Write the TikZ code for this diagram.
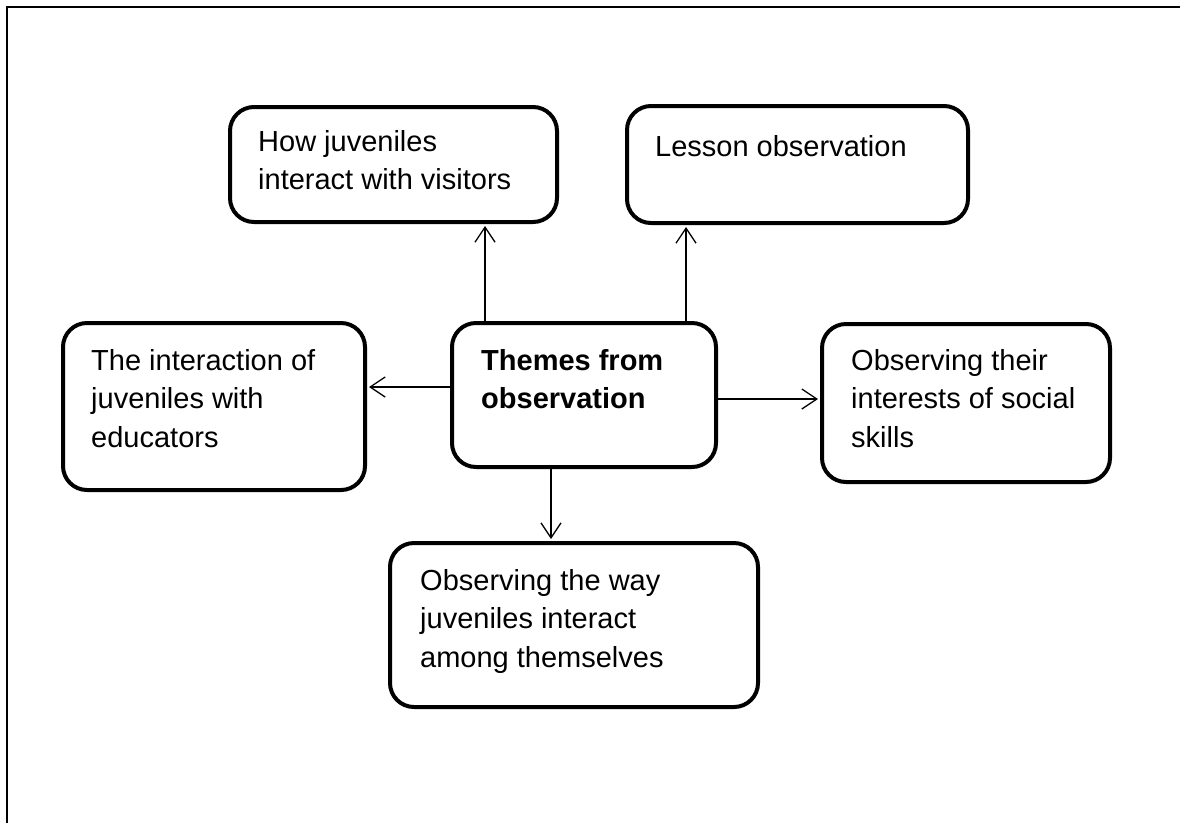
\documentclass[tikz,border=0pt]{standalone}
\usepackage{fontspec}
\setmainfont{Liberation Sans}
\usetikzlibrary{arrows.meta,calc}
\tikzset{
  themebox/.style={draw, rectangle, rounded corners=24pt, line width=4pt, inner sep=0pt},
  boxtext/.style={anchor=base west, inner sep=0pt, font=\fontsize{29}{38.5}\selectfont},
  arr/.style={line width=1.3pt, -{Straight Barb[length=15pt,width=20pt]}, shorten >=2pt}
}
\newcommand{\boxlines}[1]{\begin{tabular}[t]{@{}l@{}}#1\end{tabular}}
\begin{document}
\begin{tikzpicture}[x=1pt,y=-1pt]
\useasboundingbox (0,0) rectangle (1180,823);
\draw[line width=2pt] (1180,6.7) -- (6.7,6.7) -- (6.7,823);

\node[themebox, minimum width=327pt, minimum height=115pt] (b1) at (393.5,164.5) {};
\node[themebox, minimum width=341pt, minimum height=117pt] (b2) at (797.5,164.5) {};
\node[themebox, minimum width=264pt, minimum height=144pt] (c)  at (584,395) {};
\node[themebox, minimum width=302pt, minimum height=167pt] (l)  at (214,406.5) {};
\node[themebox, minimum width=288pt, minimum height=158pt] (r)  at (966,403) {};
\node[themebox, minimum width=368pt, minimum height=164pt] (bt) at (574,625) {};

\node[boxtext] (t1) at ($(b1.north west)+(30,46)$) {\boxlines{How juveniles\\interact with visitors}};
\node[boxtext] (t2) at ($(b2.north west)+(30,52)$) {\boxlines{Lesson observation}};
\node[boxtext] (tc) at ($(c.north west)+(31,49)$) {\boxlines{\bfseries Themes from\\\bfseries observation}};
\node[boxtext] (tl) at ($(l.north west)+(30,49)$) {\boxlines{The interaction of\\juveniles with\\educators}};
\node[boxtext] (tr) at ($(r.north west)+(31,48)$) {\boxlines{Observing their\\interests of social\\skills}};
\node[boxtext] (tb) at ($(bt.north west)+(32,49)$) {\boxlines{Observing the way\\juveniles interact\\among themselves}};

\draw[arr] ([xshift=-99pt]c.north) -- ([xshift=-99pt]c.north |- b1.south);
\draw[arr] ([xshift=102pt]c.north) -- ([xshift=102pt]c.north |- b2.south);
\draw[arr] ([yshift=8pt]c.west) -- ([yshift=8pt]c.west -| l.east);
\draw[arr] ([yshift=-4pt]c.east) -- ([yshift=-4pt]c.east -| r.west);
\draw[arr] ([xshift=-33pt]c.south) -- ([xshift=-33pt]c.south |- bt.north);
\end{tikzpicture}
\end{document}
